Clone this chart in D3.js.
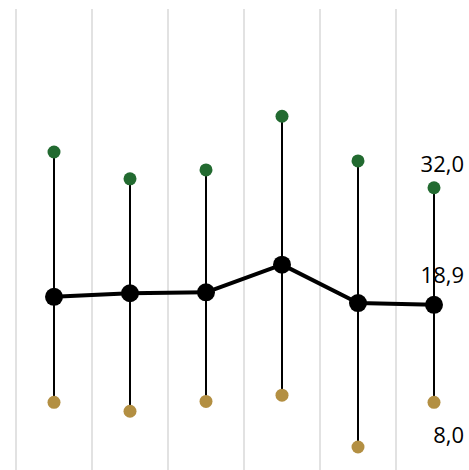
<!DOCTYPE html>
<html><head><meta charset="utf-8">
<script src="https://cdn.jsdelivr.net/npm/d3@7"></script>
<style>html,body{margin:0;padding:0;background:#fff;overflow:hidden}</style>
</head><body>
<svg id="c" width="469" height="470"></svg>
<script>
const categories = ["1","2","3","4","5","6"];
const maxValues  = [36.0, 33.0, 34.0, 40.0, 35.0, 32.0];
const meanValues = [19.8, 20.2, 20.3, 23.4, 19.1, 18.9];
const minValues  = [8.0, 7.0, 8.1, 8.8, 3.0, 8.0];
const lastLabels = ["32,0", "18,9", "8,0"];

const svg = d3.select("#c");
const x = d3.scaleBand().domain(categories).range([16, 472]).padding(0);
const y = d3.scaleLinear().domain([0, 52]).range([473.8, 9]);
const cx = d => x(d) + x.bandwidth() / 2;

// vertical gridlines at band starts
svg.append("g").selectAll("line").data(categories).join("line")
  .attr("x1", d => x(d)).attr("x2", d => x(d))
  .attr("y1", y(52)).attr("y2", 470)
  .attr("stroke", "#d9d9d9").attr("stroke-width", 1.5);

const data = categories.map((c, i) => ({c, max: maxValues[i], mean: meanValues[i], min: minValues[i]}));

// high-low lines
svg.append("g").selectAll("line").data(data).join("line")
  .attr("x1", d => cx(d.c)).attr("x2", d => cx(d.c))
  .attr("y1", d => y(d.max)).attr("y2", d => y(d.min))
  .attr("stroke", "#000").attr("stroke-width", 2);

// mean line
svg.append("path").datum(data)
  .attr("fill", "none").attr("stroke", "#000").attr("stroke-width", 4)
  .attr("stroke-linejoin", "round")
  .attr("d", d3.line().x(d => cx(d.c)).y(d => y(d.mean)));

svg.append("g").selectAll("circle").data(data).join("circle")
  .attr("cx", d => cx(d.c)).attr("cy", d => y(d.max)).attr("r", 6.5).attr("fill", "#226a30");
svg.append("g").selectAll("circle").data(data).join("circle")
  .attr("cx", d => cx(d.c)).attr("cy", d => y(d.min)).attr("r", 6.5).attr("fill", "#b38f42");
svg.append("g").selectAll("circle").data(data).join("circle")
  .attr("cx", d => cx(d.c)).attr("cy", d => y(d.mean)).attr("r", 9).attr("fill", "#000");

const last = data[data.length - 1];
const lx = cx(last.c) + 30;
const lbl = [
  {t: lastLabels[0], v: last.max, dy: -15.7},
  {t: lastLabels[1], v: last.mean, dy: -22},
  {t: lastLabels[2], v: last.min, dy: 40.7}
];
svg.append("g").selectAll("text").data(lbl).join("text")
  .attr("x", lx).attr("y", d => y(d.v) + d.dy)
  .attr("text-anchor", "end")
  .attr("font-family", "'Open Sans', sans-serif").attr("font-size", 22)
  .attr("fill", "#000")
  .text(d => d.t);
</script>
</body></html>
